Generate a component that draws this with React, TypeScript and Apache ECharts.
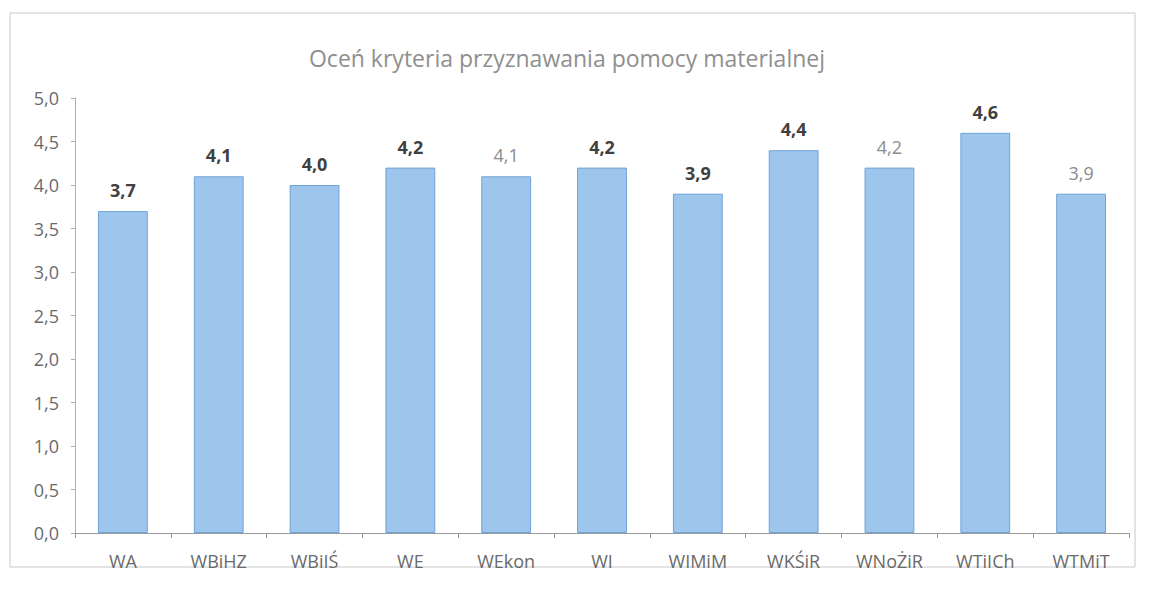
import React, { useEffect, useRef } from "react";
import * as echarts from "echarts";

const categories = ["WA", "WBiHZ", "WBiIŚ", "WE", "WEkon", "WI", "WIMiM", "WKŚiR", "WNoŻiR", "WTiICh", "WTMiT"];
const values = [3.7, 4.1, 4.0, 4.2, 4.1, 4.2, 3.9, 4.4, 4.2, 4.6, 3.9];
const fadedLabels = ["WEkon", "WNoŻiR", "WTMiT"];
const titleText = "Oceń kryteria przyznawania pomocy materialnej";

const fmt = (v: number) => v.toFixed(1).replace(".", ",");

export default function App() {
  const ref = useRef<HTMLDivElement>(null);
  useEffect(() => {
    document.body.style.margin = "0";
    const chart = echarts.init(ref.current!, null, { renderer: "svg" });
    chart.setOption({
      animation: false,
      backgroundColor: "#ffffff",
      textStyle: { fontFamily: "'Open Sans', 'DejaVu Sans', sans-serif" },
      title: {
        text: titleText,
        left: 562,
        textAlign: "center",
        top: 41,
        textStyle: { fontSize: 23, fontWeight: "normal", color: "#8f8f8f" },
      },
      graphic: [
        {
          type: "rect",
          shape: { x: 10, y: 13, width: 1125, height: 554 },
          style: { fill: "none", stroke: "#c8c8c8", lineWidth: 1 },
          silent: true,
        },
      ],
      grid: { left: 75, right: 20, top: 98, bottom: 60 },
      xAxis: {
        type: "category",
        data: categories,
        axisLine: { lineStyle: { color: "#9a9a9a" } },
        axisTick: { show: true, alignWithLabel: false, lineStyle: { color: "#9a9a9a" } },
        axisLabel: { color: "#6a6a6a", fontSize: 18, margin: 19 },
      },
      yAxis: {
        type: "value",
        min: 0,
        max: 5,
        interval: 0.5,
        axisLine: { show: true, lineStyle: { color: "#b0b0b0" } },
        axisTick: { show: true, length: 4, lineStyle: { color: "#b0b0b0" } },
        splitLine: { show: false },
        axisLabel: { color: "#6a6a6a", fontSize: 18, margin: 16, formatter: (v: number) => fmt(v) },
      },
      series: [
        {
          type: "bar",
          data: values.map((v, i) => ({
            value: v,
            label: fadedLabels.includes(categories[i]) ? { color: "#8c8c8c", fontWeight: "normal" } : undefined,
          })),
          barWidth: "52%",
          itemStyle: { color: "#9ec5ec", borderColor: "#6fa3d8", borderWidth: 1 },
          label: {
            show: true,
            position: "top",
            distance: 12,
            fontSize: 18,
            fontWeight: "bold",
            color: "#404040",
            formatter: (p: any) => fmt(p.value),
          },
        },
      ],
    });
    return () => chart.dispose();
  }, []);
  return <div ref={ref} style={{ width: 1149, height: 593 }} />;
}
